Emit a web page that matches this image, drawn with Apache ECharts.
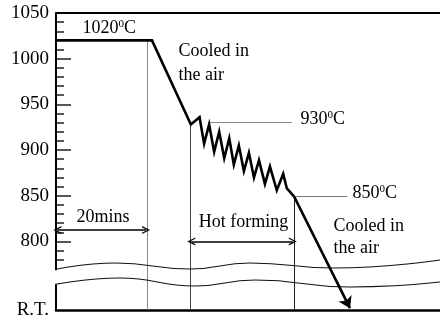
<!DOCTYPE html>
<html><head><meta charset="utf-8">
<script src="https://cdn.jsdelivr.net/npm/echarts@6/dist/echarts.min.js"></script>
<style>html,body{margin:0;padding:0;background:#fff}#c{width:440px;height:322px}</style>
</head><body><div id="c"></div>
<script>
// Time axis in minutes, temperature axis in °C (725 stands for room temperature, "R.T.")
const curveMinutes = [0, 21, 29.5, 31.4, 32.4, 33.5, 34.6, 35.7, 36.8, 37.9, 38.9, 40.0, 41.1, 42.2, 43.3, 44.4, 45.7, 46.8, 48.3, 49.7, 50.5, 52.1];
const curveTempC   = [1020, 1020, 928, 936, 907, 928, 898, 920, 891, 913, 884, 905, 877, 897, 870, 889, 863, 882, 856, 874, 858, 849];
const airCoolMinutes = [52.1, 64.3];
const airCoolTempC   = [849, 727];

const yLabelValues = [725, 800, 850, 900, 950, 1000, 1050];
const yLabelTexts  = ['R.T.', '800', '850', '900', '950', '1000', '1050'];
const majorTickValues = [800, 850, 900, 950, 1000];
const minorTickValues = [780, 790, 810, 820, 830, 840, 860, 870, 880, 890, 910, 920, 930, 940, 960, 970, 980, 990, 1010, 1030, 1040];

const breakUpperMinutes = [-2, 13, 29.3, 42.4, 61, 84];
const breakUpperTemp    = [767.7, 776.4, 769.9, 776.4, 770.9, 779.7];
const breakLowerMinutes = [-2, 14, 30.4, 43.5, 64.3, 84];
const breakLowerTemp    = [751.3, 760, 751.3, 757.8, 750.2, 755.6];

const holdEndMin = 20, hotStartMin = 29.3, hotEndMin = 52.1;
const roomTemp = 725, topTemp = 1050;

const annotations = [
  [5.7, 1033.6, '1020{s|0}C'],
  [26.7, 1008.4, 'Cooled in'],
  [26.7, 981.5, 'the air'],
  [53.4, 934, '930{s|0}C'],
  [64.75, 853, '850{s|0}C'],
  [4.4, 826, '20mins'],
  [31.1, 821.5, 'Hot forming'],
  [60.6, 816.4, 'Cooled in'],
  [60.6, 792.8, 'the air']
];

const FONT = 'Liberation Serif';
const chevron = 'path://M0,10 L5,0 L10,10 L8.3,10 L5,3.4 L1.7,10 Z';

const chart = echarts.init(document.getElementById('c'), null, {renderer: 'canvas'});
chart.setOption({
  animation: false,
  backgroundColor: '#fff',
  grid: {left: 56, right: 0, top: 13, bottom: 12, containLabel: false},
  xAxis: [
    {type: 'value', min: 0, max: 84, position: 'bottom',
     axisLine: {show: true, lineStyle: {color: '#000', width: 2.5}},
     axisTick: {show: false}, axisLabel: {show: false}, splitLine: {show: false}},
    {type: 'value', min: 0, max: 84, position: 'top',
     axisLine: {show: true, lineStyle: {color: '#000', width: 2}},
     axisTick: {show: false}, axisLabel: {show: false}, splitLine: {show: false}}
  ],
  yAxis: [
    {type: 'value', min: roomTemp, max: topTemp, position: 'left',
     axisLine: {show: false},
     axisTick: {show: true, inside: true, length: 15, customValues: majorTickValues, lineStyle: {color: '#222', width: 1.5}},
     axisLabel: {show: true, customValues: yLabelValues, margin: 7, color: '#000', fontFamily: FONT, fontSize: 19,
       formatter: v => yLabelTexts[yLabelValues.indexOf(v)] ?? ''},
     splitLine: {show: false}},
    {type: 'value', min: roomTemp, max: topTemp, position: 'left',
     axisLine: {show: false},
     axisTick: {show: true, inside: true, length: 8, customValues: minorTickValues, lineStyle: {color: '#222', width: 1.5}},
     axisLabel: {show: false}, splitLine: {show: false}}
  ],
  series: [
    {type: 'line', data: curveMinutes.map((t, i) => [t, curveTempC[i]]), symbol: 'none', clip: false, z: 6,
     lineStyle: {color: '#000', width: 2.6, join: 'miter'}},
    {type: 'lines', coordinateSystem: 'cartesian2d', clip: false, z: 6,
     symbol: ['none', 'arrow'], symbolSize: [0, 11],
     lineStyle: {color: '#000', width: 2.6, opacity: 1},
     data: [{coords: airCoolMinutes.map((t, i) => [t, airCoolTempC[i]])}]},
    {type: 'lines', coordinateSystem: 'cartesian2d', clip: false, z: 3, symbol: 'none',
     lineStyle: {opacity: 1},
     data: [
       {coords: [[holdEndMin, 1020], [holdEndMin, roomTemp]], lineStyle: {color: '#888', width: 1}},
       {coords: [[hotStartMin, 928], [hotStartMin, roomTemp]], lineStyle: {color: '#444', width: 1}},
       {coords: [[hotEndMin, 849], [hotEndMin, roomTemp]], lineStyle: {color: '#222', width: 1}},
       {coords: [[33.3, 930], [51.6, 930]], lineStyle: {color: '#888', width: 1}},
       {coords: [[hotEndMin, 850], [63.7, 850]], lineStyle: {color: '#777', width: 1}}
     ]},
    {type: 'lines', coordinateSystem: 'cartesian2d', clip: false, z: 4,
     symbol: [chevron, chevron], symbolSize: 8,
     lineStyle: {color: '#000', width: 1.6, opacity: 1},
     itemStyle: {color: '#000'},
     data: [
       {coords: [[0.3, 812.5], [holdEndMin - 0.3, 812.5]]},
       {coords: [[hotStartMin + 0.3, 800], [hotEndMin - 0.3, 800]]}
     ]},
    {type: 'lines', coordinateSystem: 'cartesian2d', clip: false, z: 5, symbol: 'none',
     lineStyle: {color: '#000', width: 2, opacity: 1},
     data: [
       {coords: [[0, topTemp], [0, 768.6]]},
       {coords: [[0, 752.3], [0, roomTemp]]}
     ]},
    {type: 'line', data: breakUpperMinutes.map((t, i) => [t, breakUpperTemp[i]]), smooth: 0.5, symbol: 'none', clip: false,
     lineStyle: {color: '#111', width: 1.1}, z: 4},
    {type: 'line', data: breakLowerMinutes.map((t, i) => [t, breakLowerTemp[i]]), smooth: 0.5, symbol: 'none', clip: false,
     lineStyle: {color: '#111', width: 1.1}, z: 4},
    {type: 'scatter', data: annotations.map(a => ({value: [a[0], a[1]], name: a[2]})), symbolSize: 1,
     itemStyle: {color: 'rgba(0,0,0,0)'}, z: 7, silent: true,
     label: {show: true, position: 'right', distance: 0, color: '#000', opacity: 1, textBorderWidth: 0,
       fontFamily: FONT, fontSize: 18,
       formatter: p => p.name,
       rich: {s: {fontSize: 11, fontFamily: FONT, color: '#000', verticalAlign: 'top', lineHeight: 12}}}}
  ]
});
</script></body></html>
